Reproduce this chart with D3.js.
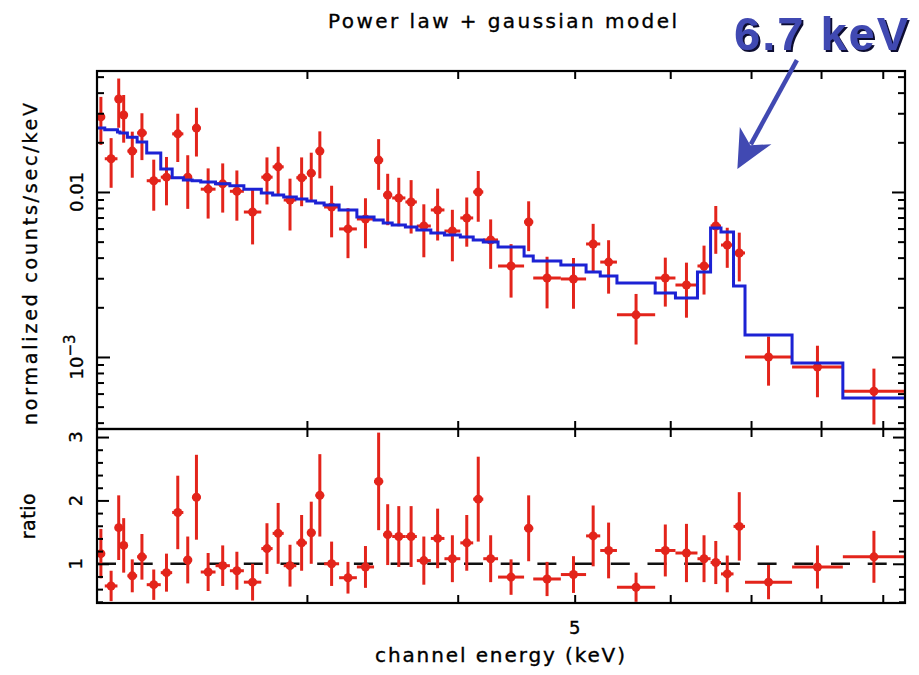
<!DOCTYPE html>
<html><head><meta charset="utf-8">
<script src="https://cdn.jsdelivr.net/npm/d3@7"></script>
<style>body{margin:0;background:#fff}svg{display:block}</style>
</head><body>
<svg id="c" width="919" height="675"></svg>
<script>
// ---------- data ----------
const binEdges = [2.01,2.04,2.09,2.10,2.13,2.17,2.21,2.27,2.32,2.37,2.41,2.45,2.52,2.59,2.66,2.75,2.81,2.87,2.94,3.00,3.05,3.10,3.19,3.30,3.41,3.47,3.53,3.62,3.70,3.80,3.90,4.02,4.12,4.20,4.32,4.54,4.62,4.87,5.11,5.25,5.42,5.83,6.06,6.32,6.48,6.61,6.77,6.92,7.57,8.34,9.39];
const flux = [0.0285,0.0159,0.0366,0.0293,0.0177,0.0228,0.0117,0.0123,0.0225,0.0123,
              0.0244,0.0104,0.0112,0.0101,0.00756,0.0123,0.0142,0.00894,0.0122,0.0130,
              0.0177,0.00811,0.00597,0.00686,0.0156,0.00959,0.0092,0.0087,0.00622,0.00778,
              0.0058,0.00696,0.0100,0.00512,0.00356,0.00658,0.00301,0.00297,0.00484,0.00376,
              0.0018,0.00301,0.00273,0.00356,0.00622,0.00477,0.00427,0.0010,0.00087,0.00062];
const fluxErr = [0.0092,0.0053,0.0121,0.0094,0.0055,0.0072,0.0040,0.0040,0.0073,0.0044,
                 0.0080,0.0035,0.0037,0.0034,0.00275,0.0039,0.0046,0.0031,0.0040,0.0043,
                 0.0056,0.0028,0.0020,0.0023,0.0053,0.0033,0.0030,0.0031,0.0022,0.0027,
                 0.0020,0.0023,0.0034,0.0017,0.00127,0.0022,0.00104,0.00101,0.00157,0.00134,
                 0.00061,0.00099,0.0010,0.00117,0.0020,0.0013,0.0014,0.00033,0.00030,0.00023];
const model = [0.0244,0.0238,0.0231,0.0228,0.0215,0.0201,0.0172,0.0138,0.0122,0.0118,
               0.0117,0.0115,0.0112,0.0109,0.0104,0.00986,0.00959,0.00933,0.00907,0.00882,
               0.00858,0.00834,0.00778,0.00706,0.00676,0.00649,0.00631,0.00614,0.00588,0.00564,
               0.00549,0.00534,0.00512,0.00498,0.00464,0.00409,0.00382,0.00361,0.00327,0.0031,
               0.00281,0.00244,0.00228,0.00327,0.00605,0.00572,0.00269,0.00136,0.00092,0.000564];
const ratio = [1.16,0.65,1.57,1.29,0.81,1.11,0.67,0.86,1.81,1.06,
               2.05,0.87,0.97,0.89,0.71,1.24,1.48,0.97,1.33,1.49,
               2.08,1.00,0.78,0.95,2.30,1.46,1.43,1.43,1.05,1.40,
               1.08,1.33,2.02,1.08,0.79,1.56,0.76,0.83,1.44,1.21,
               0.63,1.21,1.17,1.08,1.02,0.84,1.59,0.71,0.95,1.11];
const ratioErr = [0.39,0.24,0.51,0.43,0.26,0.36,0.24,0.30,0.58,0.37,
                  0.67,0.30,0.32,0.30,0.29,0.40,0.48,0.33,0.44,0.49,
                  0.65,0.35,0.25,0.33,0.77,0.48,0.48,0.48,0.38,0.47,
                  0.37,0.44,0.67,0.37,0.28,0.52,0.27,0.29,0.48,0.44,
                  0.23,0.41,0.46,0.37,0.34,0.29,0.54,0.27,0.34,0.41];
const xTicks = [3,4,5,6,7,8,9];
const xTickLabels = [5];
const yMajor = [0.001,0.01];
const yMinor = [0.0004,0.0005,0.0006,0.0007,0.0008,0.0009,0.002,0.003,0.004,0.005,0.006,0.007,0.008,0.009,0.02,0.03,0.04,0.05];
const rMajor = [1,2,3];
const rMinor = [0.4,0.6,0.8,1.2,1.4,1.6,1.8,2.2,2.4,2.6,2.8];
const titleText = "Power law + gaussian model";
const xLabel = "channel energy (keV)";
const yLabel = "normalized counts/sec/keV";
const rLabel = "ratio";
const lineLabel = "6.7 keV";
const arrowTip = [6.82, 0.0138];
const arrowTail = [7.64, 0.063];

// ---------- layout ----------
const L = 97, R = 905, T1 = 71, B1 = 429, T2 = 429, B2 = 603;
const RED = "#e3241b", BLUE = "#1c22d4", ANN = "#4149b2";
const FONT = "'DejaVu Sans', 'Liberation Sans', sans-serif";

const svg = d3.select("#c");
const x = d3.scaleLog().domain([binEdges[0], binEdges[binEdges.length-1]]).range([L, R]);
const y = d3.scaleLog().domain([0.000366, 0.0541]).range([B1, T1]);
const yr = d3.scaleLinear().domain([0.381, 3.127]).range([B2, T2]);

const bins = flux.map((f, i) => ({
  lo: binEdges[i], hi: binEdges[i+1], c: Math.sqrt(binEdges[i]*binEdges[i+1]),
  f, fe: fluxErr[i], m: model[i], r: ratio[i], re: ratioErr[i]
}));

const defs = svg.append("defs");
defs.append("clipPath").attr("id","clip1").append("rect").attr("x",L).attr("y",T1).attr("width",R-L).attr("height",B1-T1);
defs.append("clipPath").attr("id","clip2").append("rect").attr("x",L).attr("y",T2).attr("width",R-L).attr("height",B2-T2);
const flt = defs.append("filter").attr("id","shadow").attr("x","-10%").attr("y","-20%").attr("width","120%").attr("height","150%");
flt.append("feDropShadow").attr("dx",2).attr("dy",2).attr("stdDeviation",0.6).attr("flood-color","#111133").attr("flood-opacity",1);

// ---------- upper panel ----------
const g1 = svg.append("g").attr("clip-path","url(#clip1)");
const eb = g1.append("g").attr("stroke", RED).attr("stroke-width", 3);
bins.forEach(d => {
  eb.append("line").attr("x1", x(d.lo)).attr("x2", x(d.hi)).attr("y1", y(d.f)).attr("y2", y(d.f));
  eb.append("line").attr("x1", x(d.c)).attr("x2", x(d.c)).attr("y1", y(d.f + d.fe)).attr("y2", y(Math.max(d.f - d.fe, 1e-6)));
});
g1.selectAll("circle").data(bins).join("circle")
  .attr("cx", d => x(d.c)).attr("cy", d => y(d.f)).attr("r", 4.5).attr("fill", RED);

const stepPts = [];
bins.forEach(d => { stepPts.push([d.lo, d.m]); stepPts.push([d.hi, d.m]); });
g1.append("path").attr("d", d3.line().x(p => x(p[0])).y(p => y(p[1]))(stepPts))
  .attr("fill","none").attr("stroke", BLUE).attr("stroke-width", 3).attr("stroke-linejoin","miter");

// ---------- lower panel ----------
const g2 = svg.append("g").attr("clip-path","url(#clip2)");
g2.append("line").attr("x1", L).attr("x2", R).attr("y1", yr(1)).attr("y2", yr(1))
  .attr("stroke","#111").attr("stroke-width",2.5).attr("stroke-dasharray","19,17.7");
const eb2 = g2.append("g").attr("stroke", RED).attr("stroke-width", 3);
bins.forEach(d => {
  eb2.append("line").attr("x1", x(d.lo)).attr("x2", x(d.hi)).attr("y1", yr(d.r)).attr("y2", yr(d.r));
  eb2.append("line").attr("x1", x(d.c)).attr("x2", x(d.c)).attr("y1", yr(d.r + d.re)).attr("y2", yr(d.r - d.re));
});
g2.selectAll("circle").data(bins).join("circle")
  .attr("cx", d => x(d.c)).attr("cy", d => yr(d.r)).attr("r", 4.5).attr("fill", RED);

// ---------- axes / ticks ----------
function ticks(gen, vals, size, tx, ty) {
  const g = svg.append("g").attr("transform", `translate(${tx},${ty})`)
    .call(gen.tickValues(vals).tickSize(size).tickFormat(""));
  g.select(".domain").remove();
  g.selectAll(".tick line").attr("stroke","#000").attr("stroke-width",2);
}
ticks(d3.axisBottom(x), xTicks, 8, 0, T1);
ticks(d3.axisTop(x), xTicks, 8, 0, B1);
ticks(d3.axisBottom(x), xTicks, 8, 0, T2);
ticks(d3.axisTop(x), xTicks, 8, 0, B2);
ticks(d3.axisRight(y), yMajor, 13, L, 0);
ticks(d3.axisRight(y), yMinor, 7, L, 0);
ticks(d3.axisLeft(y), yMajor, 13, R, 0);
ticks(d3.axisLeft(y), yMinor, 7, R, 0);
ticks(d3.axisRight(yr), rMajor, 12, L, 0);
ticks(d3.axisRight(yr), rMinor, 6, L, 0);
ticks(d3.axisLeft(yr), rMajor, 12, R, 0);
ticks(d3.axisLeft(yr), rMinor, 6, R, 0);

svg.append("rect").attr("x",L).attr("y",T1).attr("width",R-L).attr("height",B1-T1)
  .attr("fill","none").attr("stroke","#000").attr("stroke-width",2.2);
svg.append("rect").attr("x",L).attr("y",T2).attr("width",R-L).attr("height",B2-T2)
  .attr("fill","none").attr("stroke","#000").attr("stroke-width",2.2);

// ---------- labels ----------
const txt = svg.append("g").attr("font-family", FONT).attr("fill","#000")
  .attr("stroke","#000").attr("stroke-width",0.35);
txt.append("text").attr("x", 328).attr("y", 28).attr("font-size", 20)
  .attr("textLength", 349).attr("lengthAdjust","spacing").text(titleText);
xTickLabels.forEach(v => {
  txt.append("text").attr("x", x(v)).attr("y", 634).attr("text-anchor","middle").attr("font-size",18).text(String(v));
});
txt.append("text").attr("x", 375).attr("y", 662).attr("font-size",20)
  .attr("textLength", 250).attr("lengthAdjust","spacing").text(xLabel);
txt.append("text").attr("transform", `translate(83,${y(0.01)}) rotate(-90)`).attr("text-anchor","middle")
  .attr("font-size",18).text("0.01");
const t3 = txt.append("text").attr("transform", `translate(83,${y(0.001)}) rotate(-90)`).attr("text-anchor","middle")
  .attr("font-size",18);
t3.append("tspan").text("10");
t3.append("tspan").attr("dy",-8).attr("font-size",15).text("\u22123");
rMajor.forEach(v => {
  txt.append("text").attr("transform", `translate(82,${yr(v)}) rotate(-90)`).attr("text-anchor","middle")
    .attr("font-size",18).text(String(v));
});
txt.append("text").attr("transform", `translate(37,${(T1+B1)/2 + 14}) rotate(-90)`).attr("text-anchor","middle")
  .attr("font-size",19).attr("textLength",322).attr("lengthAdjust","spacing").text(yLabel);
txt.append("text").attr("transform", `translate(35,${yr(1.75)}) rotate(-90)`).attr("text-anchor","middle")
  .attr("font-size",19).attr("textLength",46).attr("lengthAdjust","spacing").text(rLabel);

// ---------- annotation ----------
const ann = svg.append("g");
ann.append("text").attr("x", 734).attr("y", 50).attr("font-family", "'Liberation Sans', Arial, sans-serif").attr("font-weight","bold")
  .attr("font-size", 47).attr("textLength",174).attr("lengthAdjust","spacing")
  .attr("fill", ANN).attr("filter","url(#shadow)").text(lineLabel);

const tip = [x(arrowTip[0]), y(arrowTip[1])];
const tail = [x(arrowTail[0]), y(arrowTail[1])];
const dx = tail[0]-tip[0], dy = tail[1]-tip[1], len = Math.hypot(dx,dy);
const b = [dx/len, dy/len], p = [-b[1], b[0]];
const pt = (a, w) => [tip[0] + b[0]*a + p[0]*w, tip[1] + b[1]*a + p[1]*w];
ann.append("line").attr("x1", tail[0]).attr("y1", tail[1]).attr("x2", pt(28,0)[0]).attr("y2", pt(28,0)[1])
  .attr("stroke", ANN).attr("stroke-width", 4.5);
ann.append("path").attr("d", d3.line()([tip, pt(38,-18), pt(27,0), pt(38,18)]) + "Z").attr("fill", ANN);
</script>
</body></html>
